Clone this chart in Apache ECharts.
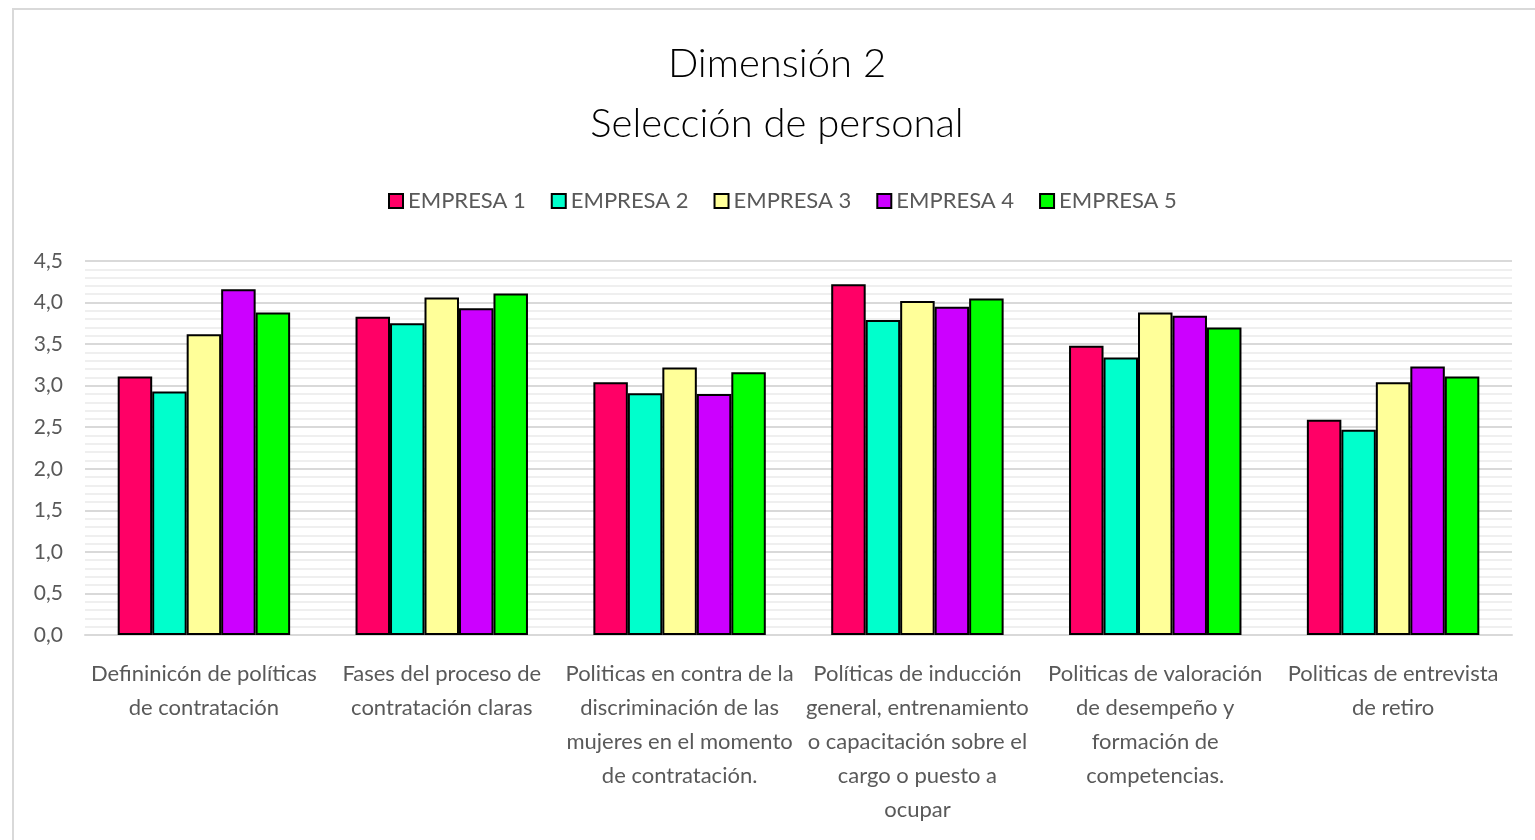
<!DOCTYPE html>
<html>
<head>
<meta charset="utf-8">
<script src="https://cdn.jsdelivr.net/npm/echarts@6/dist/echarts.min.js"></script>
<style>
html,body{margin:0;padding:0;background:#fff;}
#frame{position:absolute;left:12px;top:8px;width:1560px;height:880px;border:2px solid #d9d9d9;box-sizing:border-box;}
#chart{position:absolute;left:0;top:0;width:1535px;height:840px;}
</style>
</head>
<body>
<div id="frame"></div>
<div id="chart"></div>
<script>
const categories = [
  "Defininicón de políticas\nde contratación",
  "Fases del proceso de\ncontratación claras",
  "Politicas en contra de la\ndiscriminación de las\nmujeres en el momento\nde contratación.",
  "Políticas de inducción\ngeneral, entrenamiento\no capacitación sobre el\ncargo o puesto a\nocupar",
  "Politicas de valoración\nde desempeño y\nformación de\ncompetencias.",
  "Politicas de entrevista\nde retiro"
];
const seriesNames = ["EMPRESA 1","EMPRESA 2","EMPRESA 3","EMPRESA 4","EMPRESA 5"];
const empresa1 = [3.11, 3.83, 3.04, 4.22, 3.48, 2.59];
const empresa2 = [2.93, 3.75, 2.91, 3.79, 3.34, 2.47];
const empresa3 = [3.62, 4.06, 3.22, 4.02, 3.88, 3.04];
const empresa4 = [4.16, 3.93, 2.90, 3.95, 3.84, 3.23];
const empresa5 = [3.88, 4.11, 3.16, 4.05, 3.70, 3.11];
const colors = ["#FF0066","#00FFCC","#FFFF99","#CC00FF","#00FF00"];
const values = [empresa1, empresa2, empresa3, empresa4, empresa5];

const chart = echarts.init(document.getElementById('chart'));
const font = 'Lato, "Open Sans", sans-serif';
chart.setOption({
  animation: false,
  backgroundColor: 'transparent',
  title: {
    text: 'Dimensión 2\nSelección de personal',
    left: 772,
    textAlign: 'center',
    top: 29,
    textStyle: {fontFamily: font, fontSize: 40, fontWeight: 300, color: '#000', lineHeight: 60}
  },
  legend: {
    data: seriesNames,
    top: 185,
    left: 383,
    itemWidth: 14,
    itemHeight: 14,
    itemGap: 25,
    textStyle: {fontFamily: font, fontSize: 22, color: '#595959'},
    icon: 'rect'
  },
  grid: {left: 85, right: 23, top: 261, bottom: 205, containLabel: false},
  xAxis: {
    type: 'category',
    data: categories,
    axisLine: {lineStyle: {color: '#d9d9d9', width: 2}},
    axisTick: {show: false},
    axisLabel: {fontFamily: font, fontSize: 22, color: '#595959', lineHeight: 34, margin: 22, interval: 0}
  },
  yAxis: {
    type: 'value',
    min: 0, max: 4.5, interval: 0.5,
    axisLine: {show: false},
    axisTick: {show: false},
    axisLabel: {fontFamily: font, fontSize: 21, color: '#595959', margin: 22,
      formatter: v => v.toFixed(1).replace('.', ',')},
    splitLine: {lineStyle: {color: '#d9d9d9', width: 2}},
    minorTick: {show: false, splitNumber: 5},
    minorSplitLine: {show: true, lineStyle: {color: '#efefef', width: 2}}
  },
  series: seriesNames.map((n, i) => ({
    name: n,
    type: 'bar',
    data: values[i],
    barGap: '0%',
    barCategoryGap: '27.5%',
    itemStyle: {color: colors[i], borderColor: '#000', borderWidth: 2}
  }))
});
</script>
</body>
</html>
